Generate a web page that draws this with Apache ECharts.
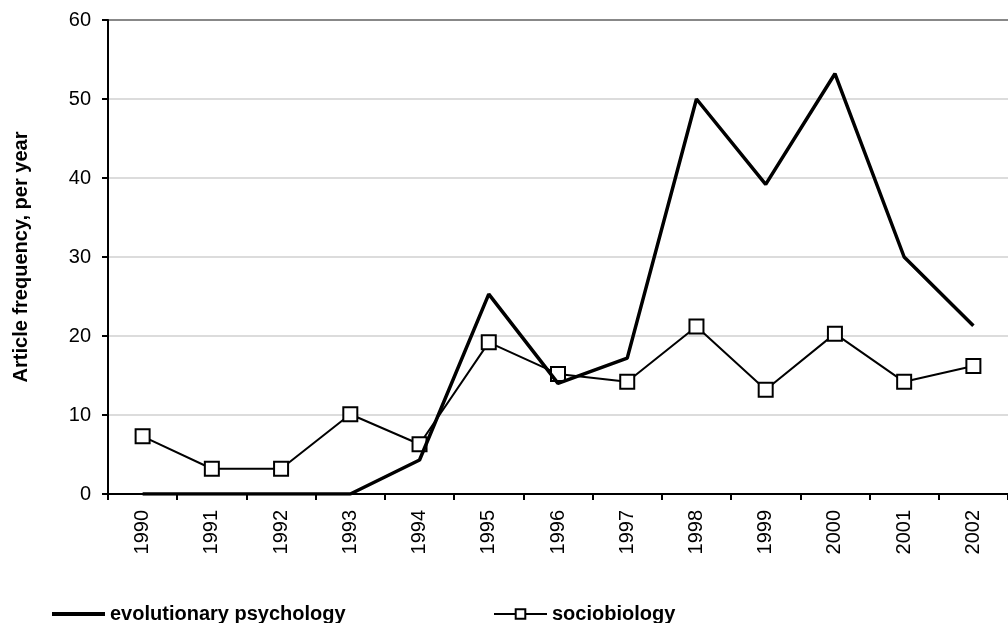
<!DOCTYPE html>
<html>
<head>
<meta charset="utf-8">
<script src="https://cdn.jsdelivr.net/npm/echarts@6/dist/echarts.min.js"></script>
<style>
  html, body { margin: 0; padding: 0; background: #fff; }
  #chart { width: 1008px; height: 623px; }
</style>
</head>
<body>
<div id="chart"></div>
<script>
// years on the x axis
const years = ['1990', '1991', '1992', '1993', '1994', '1995', '1996',
  '1997', '1998', '1999', '2000', '2001', '2002'];

// article counts
const evoPsych = [0, 0, 0, 0, 4.3, 25.3, 14, 17.2, 50, 39.2, 53.2, 30, 21.3];
const sociobiology = [7.3, 3.2, 3.2, 10.1, 6.3, 19.2, 15.2, 14.2, 21.2, 13.2, 20.3, 14.2, 16.2];

const yTicks = { min: 0, max: 60, interval: 10 };

const font = '"Liberation Sans", Arial, sans-serif';
const legendText = { fontFamily: font, fontSize: 20, fontWeight: 'bold', color: '#000' };
const chart = echarts.init(document.getElementById('chart'));

chart.setOption({
  backgroundColor: '#fff',
  animation: false,
  textStyle: { fontFamily: font, color: '#000' },
  grid: { left: 108, top: 20, width: 905, height: 474 },
  legend: [
    {
      data: [{ name: 'evolutionary psychology', icon: 'rect' }],
      left: 47, top: 599,
      itemWidth: 53, itemHeight: 4,
      textStyle: legendText
    },
    {
      data: ['sociobiology'],
      left: 488, top: 599,
      itemWidth: 53, itemHeight: 12,
      textStyle: legendText
    }
  ],
  xAxis: {
    type: 'category',
    data: years,
    boundaryGap: true,
    axisLine: { lineStyle: { color: '#000', width: 2 } },
    axisTick: { show: true, length: 6, lineStyle: { color: '#000', width: 2 } },
    axisLabel: { rotate: 90, fontSize: 20, color: '#000', margin: 16, fontFamily: font },
    splitLine: { show: false }
  },
  yAxis: {
    type: 'value',
    min: yTicks.min,
    max: yTicks.max,
    interval: yTicks.interval,
    name: 'Article frequency, per year',
    nameLocation: 'middle',
    nameGap: 77,
    nameTextStyle: { fontFamily: font, fontSize: 20, fontWeight: 'bold', color: '#000' },
    axisLine: { show: true, lineStyle: { color: '#000', width: 2 } },
    axisTick: { show: true, length: 6, lineStyle: { color: '#000', width: 2 } },
    axisLabel: { fontSize: 20, color: '#000', margin: 17, fontFamily: font },
    splitLine: {
      lineStyle: {
        color: ['#dcdcdc', '#dcdcdc', '#dcdcdc', '#dcdcdc', '#dcdcdc', '#dcdcdc', '#888'],
        width: 2
      }
    }
  },
  series: [
    {
      name: 'evolutionary psychology',
      type: 'line',
      data: evoPsych,
      symbol: 'none',
      lineStyle: { color: '#000', width: 3.5 },
      itemStyle: { color: '#000' },
      z: 3
    },
    {
      name: 'sociobiology',
      type: 'line',
      data: sociobiology,
      symbol: 'rect',
      symbolSize: 14,
      lineStyle: { color: '#000', width: 2 },
      itemStyle: { color: '#fff', borderColor: '#000', borderWidth: 2 },
      z: 2
    }
  ]
});
</script>
</body>
</html>
